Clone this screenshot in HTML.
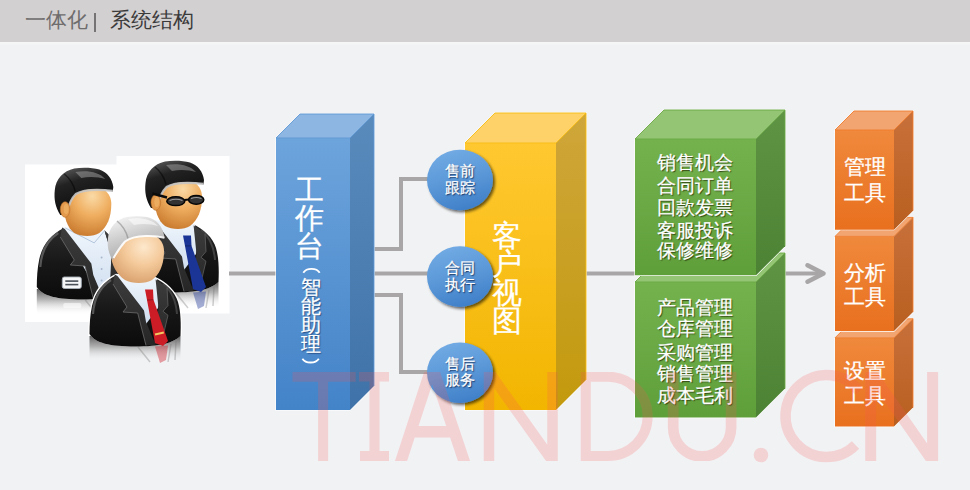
<!DOCTYPE html>
<html><head><meta charset="utf-8"><style>
html,body{margin:0;padding:0;}
body{width:970px;height:490px;overflow:hidden;position:relative;background:#f1f2f4;font-family:"Liberation Sans",sans-serif;}
#hd{position:absolute;left:0;top:0;width:970px;height:41.5px;background:#d3d0d1;}
#hb{position:absolute;left:0;top:41.5px;width:970px;height:3.5px;background:linear-gradient(#f6f7f6,#f2f3f4);}
.t{position:absolute;white-space:nowrap;}
svg{position:absolute;left:0;top:0;}
.vt{position:absolute;color:#fff;text-align:center;-webkit-text-stroke:0.25px #fff;}
.cs{text-shadow:1px 1px 1.2px rgba(0,10,40,.7);}
.gs{text-shadow:1px 1px 1px rgba(30,36,0,.75);}
.bs{text-shadow:1px 1px 1px rgba(0,20,60,.5);}
.os{}
#wm{position:absolute;left:0;top:0;font-family:"Liberation Mono",monospace;color:rgba(238,120,128,.30);font-size:135px;}
</style></head><body>
<div id="hb"></div><div id="hd"><div class="t" style="left:24.5px;top:7px;font-size:20.7px;line-height:26px;color:#6e6c6d">一体化</div><div style="position:absolute;left:93.5px;top:13px;width:2px;height:18.5px;background:#757374"></div><div class="t" style="left:110.3px;top:7px;font-size:20.5px;line-height:26px;color:#3b3a3b">系统结构</div></div>
<svg width="970" height="490" viewBox="0 0 970 490"><defs><linearGradient id="blf" x1="0" y1="0" x2="0" y2="1"><stop offset="0" stop-color="#6da4dc"/><stop offset="1" stop-color="#4383c8"/></linearGradient>
<linearGradient id="bls" x1="0" y1="0" x2="0" y2="1"><stop offset="0" stop-color="#5a8bbd"/><stop offset="1" stop-color="#3f72a8"/></linearGradient><linearGradient id="yef" x1="0" y1="0" x2="0" y2="1"><stop offset="0" stop-color="#ffc830"/><stop offset="1" stop-color="#f2b500"/></linearGradient>
<linearGradient id="yes" x1="0" y1="0" x2="0" y2="1"><stop offset="0" stop-color="#cfa63a"/><stop offset="1" stop-color="#c39a0c"/></linearGradient><linearGradient id="g2f" x1="0" y1="0" x2="0" y2="1"><stop offset="0" stop-color="#74b24e"/><stop offset="1" stop-color="#5f9f3a"/></linearGradient>
<linearGradient id="g2s" x1="0" y1="0" x2="0" y2="1"><stop offset="0" stop-color="#5e9443"/><stop offset="1" stop-color="#4c8233"/></linearGradient><linearGradient id="g1f" x1="0" y1="0" x2="0" y2="1"><stop offset="0" stop-color="#74b24e"/><stop offset="1" stop-color="#5f9f3a"/></linearGradient>
<linearGradient id="g1s" x1="0" y1="0" x2="0" y2="1"><stop offset="0" stop-color="#5e9443"/><stop offset="1" stop-color="#4c8233"/></linearGradient><linearGradient id="o3f" x1="0" y1="0" x2="0" y2="1"><stop offset="0" stop-color="#f0893c"/><stop offset="1" stop-color="#e8701e"/></linearGradient>
<linearGradient id="o3s" x1="0" y1="0" x2="0" y2="1"><stop offset="0" stop-color="#c8703a"/><stop offset="1" stop-color="#b85f20"/></linearGradient><linearGradient id="o2f" x1="0" y1="0" x2="0" y2="1"><stop offset="0" stop-color="#f0893c"/><stop offset="1" stop-color="#e8701e"/></linearGradient>
<linearGradient id="o2s" x1="0" y1="0" x2="0" y2="1"><stop offset="0" stop-color="#c8703a"/><stop offset="1" stop-color="#b85f20"/></linearGradient><linearGradient id="o1f" x1="0" y1="0" x2="0" y2="1"><stop offset="0" stop-color="#f0893c"/><stop offset="1" stop-color="#e8701e"/></linearGradient>
<linearGradient id="o1s" x1="0" y1="0" x2="0" y2="1"><stop offset="0" stop-color="#c8703a"/><stop offset="1" stop-color="#b85f20"/></linearGradient><linearGradient id="cg" x1="0.3" y1="0" x2="0.6" y2="1"><stop offset="0" stop-color="#72abe4"/><stop offset="0.5" stop-color="#5b98d8"/><stop offset="1" stop-color="#3f7fc8"/></linearGradient>
<filter id="sh" x="-30%" y="-30%" width="160%" height="160%"><feGaussianBlur in="SourceAlpha" stdDeviation="1.5"/><feOffset dx="1.5" dy="2"/><feComponentTransfer><feFuncA type="linear" slope="0.6"/></feComponentTransfer><feMerge><feMergeNode/><feMergeNode in="SourceGraphic"/></feMerge></filter>
<linearGradient id="suitg" x1="0" y1="0" x2="0" y2="1"><stop offset="0" stop-color="#2c2c2c"/><stop offset="0.5" stop-color="#171717"/><stop offset="1" stop-color="#0b0b0b"/></linearGradient>
<linearGradient id="lapg" x1="0" y1="0" x2="0" y2="1"><stop offset="0" stop-color="#3c3c3c"/><stop offset="1" stop-color="#262626"/></linearGradient>
<linearGradient id="reflg" x1="0" y1="0" x2="0" y2="1"><stop offset="0" stop-color="#404040" stop-opacity="0.95"/><stop offset="0.45" stop-color="#8c8c8c" stop-opacity="0.65"/><stop offset="1" stop-color="#ffffff" stop-opacity="0"/></linearGradient>
<radialGradient id="face1" cx="0.6" cy="0.22" r="0.85"><stop offset="0" stop-color="#fadaa6"/><stop offset="0.45" stop-color="#efae60"/><stop offset="1" stop-color="#c6762a"/></radialGradient>
<radialGradient id="face3" cx="0.62" cy="0.3" r="0.8"><stop offset="0" stop-color="#fde8cc"/><stop offset="0.45" stop-color="#f4c99a"/><stop offset="1" stop-color="#d49a66"/></radialGradient>
<linearGradient id="hairb" x1="0.2" y1="0" x2="0.6" y2="1"><stop offset="0" stop-color="#5a5a5a"/><stop offset="0.3" stop-color="#222"/><stop offset="1" stop-color="#080808"/></linearGradient>
<linearGradient id="hairs" x1="0.2" y1="0" x2="0.6" y2="1"><stop offset="0" stop-color="#f4f4f4"/><stop offset="0.45" stop-color="#cdcdcd"/><stop offset="1" stop-color="#a4a4a4"/></linearGradient>
<linearGradient id="shirtg" x1="0" y1="0" x2="0" y2="1"><stop offset="0" stop-color="#f0f6fc"/><stop offset="1" stop-color="#d0def0"/></linearGradient>
</defs>
<rect x="25" y="164.5" width="110" height="157.5" fill="#fff"/>
<rect x="116.5" y="156" width="113" height="157.5" fill="#fff"/>
<g transform="translate(-52.7,-47)">
<path d="M89.5,334 C95,343 110,346.5 135,346.5 C160,346.5 173,343 180.5,336 L180.5,362 L89.5,362 Z" fill="url(#reflg)"/>
<path d="M138,347 L150,362 M171,344 L168,362 M176,341 L175,360" stroke="#777" stroke-width="1.5" opacity="0.35"/>
<path d="M89.5,336 C89.5,325 90,315 92,306 C95,292 104,281 116.6,275 L154.4,278 C166,283 175,292 178,302 C181,312 181,325 180.5,336" fill="none" stroke="#fff" stroke-width="2.6"/>
<path d="M116.6,275 C104,281 95,292 92,306 C90,315 89.5,325 89.5,334 C95,343 110,346.5 135,346.5 C160,346.5 173,343 180.5,336 C181,325 181,312 178,302 C175,292 166,283 154.4,278 Z" fill="url(#suitg)"/>
<path d="M111,280 C100,287 94,298 93,314" fill="none" stroke="#707070" stroke-width="2.2" opacity="0.7"/>
<path d="M163,284 C172,291 176,300 177,314" fill="none" stroke="#5a5a5a" stroke-width="2" opacity="0.6"/>
<path d="M115,274 L157,277 L164,300 L163,336 L153,344 L124,292 Z" fill="url(#shirtg)"/>
<path d="M114.8,274.5 L117.5,276 L144,310.5 L146,322 L155.6,344.7 L146,345.5 L137.7,313 L123,312 L127,307 L113,284 Z" fill="url(#lapg)"/>
<path d="M113,284 L127,307 L123,312 L137.7,313 L146,345.5" fill="none" stroke="#6a6a6a" stroke-width="1" opacity="0.8"/>
<path d="M157,277 L167,287 L170,310 L166,344 L160,345 L163,336 L164,300 Z" fill="url(#lapg)"/>
<path d="M118,275 L146.9,289.9 L157,278" fill="none" stroke="#b4c6dc" stroke-width="1"/>
<g fill="#a8b8cc"><circle cx="154.3" cy="304.6" r="1"/><circle cx="154.3" cy="316" r="1"/><circle cx="154.3" cy="327.4" r="1"/></g>
<rect x="115" y="324" width="19" height="11.5" rx="2" fill="#f4f6f8" stroke="#a8b0b8" stroke-width="0.9"/>
<rect x="118" y="327.3" width="13" height="1.6" fill="#4a5058"/><rect x="118" y="330.8" width="13" height="1.6" fill="#4a5058"/>
<rect x="116" y="350" width="18" height="5" rx="1.5" fill="#fff" opacity="0.55"/>
<path d="M116.5,252 C116.5,240 125,232 139,232 C154,232 164,239 164,251 C164,264 160,274 152,280 C146,284 134,284 127,280 C120,275 116.5,264 116.5,252 Z" fill="url(#face1)"/>
<path d="M113,262 C108,254 106.5,246 107.5,237 C108.5,226 116,218 127,215.5 C135,214 145,214.5 152,216.5 C160,219 165,226 166,234 L165.5,238.5 C158,236 150,235.5 141,236.5 C134,237.5 129,240 125.5,244.5 C122,249 120,255 119,262 Z" fill="url(#hairb)"/>
<path d="M128,219 C140,217 152,219 158,226 C152,224 142,223 134,225 Z" fill="#9a9a9a" opacity="0.55"/>
<path d="M117,221 C122,225 126,230 128,238.5" fill="none" stroke="#000" stroke-width="1.6" opacity="0.5"/>
<path d="M120,259 C121.5,251 124,245.5 128.5,241 C135,237 148,235.8 165.5,237.8" fill="none" stroke="#c4c4c4" stroke-width="2.2" opacity="0.9"/>
<ellipse cx="117.8" cy="256.5" rx="4.8" ry="7.8" fill="#e49a4c" stroke="#b86e28" stroke-width="0.6"/>
<ellipse cx="118.8" cy="256" rx="2.4" ry="5" fill="#f0b46a" opacity="0.7"/>
</g>
<g transform="translate(38,-54)">
<path d="M89.5,334 C95,343 110,346.5 135,346.5 C160,346.5 173,343 180.5,336 L180.5,362 L89.5,362 Z" fill="url(#reflg)"/>
<path d="M138,347 L150,362 M171,344 L168,362 M176,341 L175,360" stroke="#777" stroke-width="1.5" opacity="0.35"/>
<path d="M155,346.5 L168,345.5 L166,360 L160,363 Z" fill="#1b3596" opacity="0.4"/>
<path d="M89.5,336 C89.5,325 90,315 92,306 C95,292 104,281 116.6,275 L154.4,278 C166,283 175,292 178,302 C181,312 181,325 180.5,336" fill="none" stroke="#fff" stroke-width="2.6"/>
<path d="M116.6,275 C104,281 95,292 92,306 C90,315 89.5,325 89.5,334 C95,343 110,346.5 135,346.5 C160,346.5 173,343 180.5,336 C181,325 181,312 178,302 C175,292 166,283 154.4,278 Z" fill="url(#suitg)"/>
<path d="M111,280 C100,287 94,298 93,314" fill="none" stroke="#707070" stroke-width="2.2" opacity="0.7"/>
<path d="M163,284 C172,291 176,300 177,314" fill="none" stroke="#5a5a5a" stroke-width="2" opacity="0.6"/>
<path d="M115,274 L156.5,278 L160,294 L158,308 L146,324 L141,310 L124,290 Z" fill="url(#shirtg)"/>
<path d="M114.8,274.5 L117.5,276 L144,310.5 L146,322 L155.6,344.7 L146,345.5 L137.7,313 L123,312 L127,307 L113,284 Z" fill="url(#lapg)"/>
<path d="M113,284 L127,307 L123,312 L137.7,313 L146,345.5" fill="none" stroke="#6a6a6a" stroke-width="1" opacity="0.8"/>
<path d="M155.6,279.5 L167,287.6 L168,305.6 L163,311.3 L168,315.3 L161,344.7 L154,344 L158.5,308 Z" fill="url(#lapg)"/>
<path d="M167,287.6 L168,305.6 L163,311.3 L168,315.3 L161,344.7" fill="none" stroke="#666" stroke-width="1" opacity="0.7"/>
<path d="M145,289.5 L153,289.5 L153.5,299.8 L168,341 L163,346 L155,343 L147,300 Z" fill="#1b3596"/>
<path d="M147,300 L153.5,299.8" stroke="#000" stroke-width="0.8" opacity="0.35"/>
<path d="M116.5,252 C116.5,240 125,232 139,232 C154,232 164,239 164,251 C164,264 160,274 152,280 C146,284 134,284 127,280 C120,275 116.5,264 116.5,252 Z" fill="url(#face1)"/>
<path d="M113,262 C108,254 106.5,246 107.5,237 C108.5,226 116,218 127,215.5 C135,214 145,214.5 152,216.5 C160,219 165,226 166,234 L165.5,238.5 C158,236 150,235.5 141,236.5 C134,237.5 129,240 125.5,244.5 C122,249 120,255 119,262 Z" fill="url(#hairb)"/>
<path d="M128,219 C140,217 152,219 158,226 C152,224 142,223 134,225 Z" fill="#9a9a9a" opacity="0.55"/>
<path d="M117,221 C122,225 126,230 128,238.5" fill="none" stroke="#000" stroke-width="1.6" opacity="0.5"/>
<path d="M120,259 C121.5,251 124,245.5 128.5,241 C135,237 148,235.8 165.5,237.8" fill="none" stroke="#c4c4c4" stroke-width="2.2" opacity="0.9"/>
<ellipse cx="117.8" cy="256.5" rx="4.8" ry="7.8" fill="#e49a4c" stroke="#b86e28" stroke-width="0.6"/>
<ellipse cx="118.8" cy="256" rx="2.4" ry="5" fill="#f0b46a" opacity="0.7"/>
<path d="M114.4,247.5 L129,251.5" stroke="#0c0c0c" stroke-width="2.4"/>
<ellipse cx="137.8" cy="255.2" rx="9" ry="4.4" fill="#333" stroke="#060606" stroke-width="1.5"/>
<ellipse cx="158.2" cy="253.8" rx="7.6" ry="4.4" fill="#333" stroke="#060606" stroke-width="1.5"/>
<path d="M146.5,254 L151,253.5" stroke="#060606" stroke-width="1.8"/>
<path d="M131.5,254.5 Q138,252 144.5,254.5 M153,252.5 Q158.5,250.5 163.5,252.5" fill="none" stroke="#9a9a9a" stroke-width="1.2"/>
</g>
<g transform="translate(0,0)">
<path d="M89.5,334 C95,343 110,346.5 135,346.5 C160,346.5 173,343 180.5,336 L180.5,362 L89.5,362 Z" fill="url(#reflg)"/>
<path d="M138,347 L150,362 M171,344 L168,362 M176,341 L175,360" stroke="#777" stroke-width="1.5" opacity="0.35"/>
<path d="M155,346.5 L168,345.5 L166,360 L160,363 Z" fill="#cc1c26" opacity="0.4"/>
<path d="M89.5,336 C89.5,325 90,315 92,306 C95,292 104,281 116.6,275 L154.4,278 C166,283 175,292 178,302 C181,312 181,325 180.5,336" fill="none" stroke="#fff" stroke-width="2.6"/>
<path d="M116.6,275 C104,281 95,292 92,306 C90,315 89.5,325 89.5,334 C95,343 110,346.5 135,346.5 C160,346.5 173,343 180.5,336 C181,325 181,312 178,302 C175,292 166,283 154.4,278 Z" fill="url(#suitg)"/>
<path d="M111,280 C100,287 94,298 93,314" fill="none" stroke="#707070" stroke-width="2.2" opacity="0.7"/>
<path d="M163,284 C172,291 176,300 177,314" fill="none" stroke="#5a5a5a" stroke-width="2" opacity="0.6"/>
<path d="M115,274 L156.5,278 L160,294 L158,308 L146,324 L141,310 L124,290 Z" fill="url(#shirtg)"/>
<path d="M114.8,274.5 L117.5,276 L144,310.5 L146,322 L155.6,344.7 L146,345.5 L137.7,313 L123,312 L127,307 L113,284 Z" fill="url(#lapg)"/>
<path d="M113,284 L127,307 L123,312 L137.7,313 L146,345.5" fill="none" stroke="#6a6a6a" stroke-width="1" opacity="0.8"/>
<path d="M155.6,279.5 L167,287.6 L168,305.6 L163,311.3 L168,315.3 L161,344.7 L154,344 L158.5,308 Z" fill="url(#lapg)"/>
<path d="M167,287.6 L168,305.6 L163,311.3 L168,315.3 L161,344.7" fill="none" stroke="#666" stroke-width="1" opacity="0.7"/>
<path d="M145,289.5 L153,289.5 L153.5,299.8 L168,341 L163,346 L155,343 L147,300 Z" fill="#cc1c26"/>
<path d="M147,300 L153.5,299.8" stroke="#000" stroke-width="0.8" opacity="0.35"/>
<path d="M155,334.5 L163.8,332.5" stroke="#f2c860" stroke-width="2"/>
<path d="M110.8,252 C110.8,240 122,232 138,232 C154,232 164,239 164,251 C164,264 160,274 152,280 C146,284 132,284 125,280 C116,274 110.8,264 110.8,252 Z" fill="url(#face3)"/>
<path d="M112.3,260 C108.5,253 107,246 108,238 C109,228 116,219 127,217 C133,216 140,216 147,217 C156,219 163,226 164.5,237.5 C158,236 148,235.5 138,236.2 C131,237 126,240 122.5,245 C118.5,250 115,256 112.3,260 Z" fill="url(#hairs)"/>
<path d="M128,219 C140,217 152,219 158,226 C152,224 142,223 134,225 Z" fill="#ffffff" opacity="0.55"/>
<path d="M117,221 C122,225 126,230 128,238.5" fill="none" stroke="#7a7a7a" stroke-width="1.6" opacity="0.5"/>
<path d="M113.5,258 C117,252 121,246 125,241.5 C130,237.5 137,236.3 146,236 C153,235.8 159,236.3 164.5,237.8" fill="none" stroke="#ffffff" stroke-width="2" opacity="0.9"/>
</g>
<g fill="#a9a6a7">
<rect x="229" y="271.5" width="48" height="4"/>
<rect x="373" y="271.5" width="60" height="4"/>
<rect x="373" y="247" width="30" height="4"/>
<rect x="399" y="177" width="4" height="74"/>
<rect x="399" y="177" width="34" height="4"/>
<rect x="373" y="293" width="30" height="4"/>
<rect x="399" y="293" width="4" height="81"/>
<rect x="399" y="370" width="34" height="4"/>
<rect x="585" y="271.5" width="51" height="4"/>
<rect x="784" y="271.5" width="36" height="4"/>
</g>
<path d="M807.5 265.3 L823.5 273.5 L807.5 281.7" fill="none" stroke="#a9a6a7" stroke-width="4.6" stroke-linecap="round" stroke-linejoin="round"/>
<g stroke="#fff" stroke-width="1.2" stroke-linejoin="miter">
<polygon points="276,138 300,114 374,114 374,386 350,410 276,410" fill="none"/></g>
<polygon points="276,138 350,138 350,410 276,410" fill="url(#blf)"/>
<polygon points="276,138 300,114 374,114 350,138" fill="#8db6e2"/>
<polygon points="350,138 374,114 374,386 350,410" fill="url(#bls)"/>
<g fill="none" stroke="#5f98d4" stroke-width="1" opacity="0.9"><path d="M276,138 L300,114 L374,114 L374,386 M276,138 L350,138 L374,114"/></g><g stroke="#fff" stroke-width="1.2" stroke-linejoin="miter">
<polygon points="465,143 495,113 586,113 586,380 556,410 465,410" fill="none"/></g>
<polygon points="465,143 556,143 556,410 465,410" fill="url(#yef)"/>
<polygon points="465,143 495,113 586,113 556,143" fill="#fed268"/>
<polygon points="556,143 586,113 586,380 556,410" fill="url(#yes)"/>
<g fill="none" stroke="#f7bd12" stroke-width="1" opacity="0.9"><path d="M465,143 L495,113 L586,113 L586,380 M465,143 L556,143 L586,113"/></g><g stroke="#fff" stroke-width="1.2" stroke-linejoin="miter">
<polygon points="635,282 664,253 785,253 785,388.6 756,417.6 635,417.6" fill="none"/></g>
<polygon points="635,282 756,282 756,417.6 635,417.6" fill="url(#g2f)"/>
<polygon points="635,282 664,253 785,253 756,282" fill="#93c574"/>
<polygon points="756,282 785,253 785,388.6 756,417.6" fill="url(#g2s)"/>
<g fill="none" stroke="#6aa846" stroke-width="1" opacity="0.9"><path d="M635,282 L664,253 L785,253 L785,388.6 M635,282 L756,282 L785,253"/></g><g stroke="#fff" stroke-width="1.2" stroke-linejoin="miter">
<polygon points="635,139 664,110 785,110 785,246.3 756,275.3 635,275.3" fill="none"/></g>
<polygon points="635,139 756,139 756,275.3 635,275.3" fill="url(#g1f)"/>
<polygon points="635,139 664,110 785,110 756,139" fill="#93c574"/>
<polygon points="756,139 785,110 785,246.3 756,275.3" fill="url(#g1s)"/>
<g fill="none" stroke="#6aa846" stroke-width="1" opacity="0.9"><path d="M635,139 L664,110 L785,110 L785,246.3 M635,139 L756,139 L785,110"/></g><g stroke="#fff" stroke-width="1.2" stroke-linejoin="miter">
<polygon points="835,337.8 854,318.8 913,318.8 913,407.6 894,426.6 835,426.6" fill="none"/></g>
<polygon points="835,337.8 894,337.8 894,426.6 835,426.6" fill="url(#o3f)"/>
<polygon points="835,337.8 854,318.8 913,318.8 894,337.8" fill="#f2a571"/>
<polygon points="894,337.8 913,318.8 913,407.6 894,426.6" fill="url(#o3s)"/>
<g fill="none" stroke="#ee7c2e" stroke-width="1" opacity="0.9"><path d="M835,337.8 L854,318.8 L913,318.8 L913,407.6 M835,337.8 L894,337.8 L913,318.8"/></g><g stroke="#fff" stroke-width="1.2" stroke-linejoin="miter">
<polygon points="835,236.4 854,217.4 913,217.4 913,312.1 894,331.1 835,331.1" fill="none"/></g>
<polygon points="835,236.4 894,236.4 894,331.1 835,331.1" fill="url(#o2f)"/>
<polygon points="835,236.4 854,217.4 913,217.4 894,236.4" fill="#f2a571"/>
<polygon points="894,236.4 913,217.4 913,312.1 894,331.1" fill="url(#o2s)"/>
<g fill="none" stroke="#ee7c2e" stroke-width="1" opacity="0.9"><path d="M835,236.4 L854,217.4 L913,217.4 L913,312.1 M835,236.4 L894,236.4 L913,217.4"/></g><g stroke="#fff" stroke-width="1.2" stroke-linejoin="miter">
<polygon points="835,130 854,111 913,111 913,210.7 894,229.7 835,229.7" fill="none"/></g>
<polygon points="835,130 894,130 894,229.7 835,229.7" fill="url(#o1f)"/>
<polygon points="835,130 854,111 913,111 894,130" fill="#f2a571"/>
<polygon points="894,130 913,111 913,210.7 894,229.7" fill="url(#o1s)"/>
<g fill="none" stroke="#ee7c2e" stroke-width="1" opacity="0.9"><path d="M835,130 L854,111 L913,111 L913,210.7 M835,130 L894,130 L913,111"/></g>
<ellipse cx="460" cy="180" rx="33" ry="30.3" fill="url(#cg)" filter="url(#sh)"/><ellipse cx="460" cy="276.6" rx="33" ry="30.3" fill="url(#cg)" filter="url(#sh)"/><ellipse cx="460" cy="372.7" rx="33" ry="30.3" fill="url(#cg)" filter="url(#sh)"/>
<path d="M303.3,272.7 A9,6.5 0 0 1 319.7,272.7 M302.4,358.7 A9,6.5 0 0 0 318.8,358.7" fill="none" stroke="#fff" stroke-width="1.8"/>
</svg>
<div class="vt " style="left:293.30px;top:175.50px;width:33.00px;font-size:29px;line-height:29px;">工</div>
<div class="vt " style="left:293.30px;top:203.80px;width:33.00px;font-size:29px;line-height:29px;">作</div>
<div class="vt " style="left:293.30px;top:232.10px;width:33.00px;font-size:29px;line-height:29px;">台</div>
<div class="vt bs" style="left:299.25px;top:278.40px;width:23.50px;font-size:19.5px;line-height:19.5px;">智</div>
<div class="vt bs" style="left:299.25px;top:297.30px;width:23.50px;font-size:19.5px;line-height:19.5px;">能</div>
<div class="vt bs" style="left:299.25px;top:316.20px;width:23.50px;font-size:19.5px;line-height:19.5px;">助</div>
<div class="vt bs" style="left:299.25px;top:335.10px;width:23.50px;font-size:19.5px;line-height:19.5px;">理</div>
<div class="vt " style="left:490.35px;top:220.80px;width:33.50px;font-size:29.5px;line-height:29.5px;">客</div>
<div class="vt " style="left:490.35px;top:249.30px;width:33.50px;font-size:29.5px;line-height:29.5px;">户</div>
<div class="vt " style="left:490.35px;top:277.80px;width:33.50px;font-size:29.5px;line-height:29.5px;">视</div>
<div class="vt " style="left:490.35px;top:306.30px;width:33.50px;font-size:29.5px;line-height:29.5px;">图</div>
<div class="vt cs" style="left:443.20px;top:163.10px;width:34.00px;font-size:15px;line-height:15px;">售前</div>
<div class="vt cs" style="left:443.20px;top:179.75px;width:34.00px;font-size:15px;line-height:15px;">跟踪</div>
<div class="vt cs" style="left:443.20px;top:260.05px;width:34.00px;font-size:15px;line-height:15px;">合同</div>
<div class="vt cs" style="left:443.20px;top:277.35px;width:34.00px;font-size:15px;line-height:15px;">执行</div>
<div class="vt cs" style="left:443.20px;top:356.20px;width:34.00px;font-size:15px;line-height:15px;">售后</div>
<div class="vt cs" style="left:443.20px;top:371.95px;width:34.00px;font-size:15px;line-height:15px;">服务</div>
<div class="vt gs" style="left:656.20px;top:154.39px;width:78.00px;font-size:18.5px;line-height:18.5px;">销售机会</div>
<div class="vt gs" style="left:656.20px;top:177.44px;width:78.00px;font-size:18.5px;line-height:18.5px;">合同订单</div>
<div class="vt gs" style="left:656.20px;top:199.02px;width:78.00px;font-size:18.5px;line-height:18.5px;">回款发票</div>
<div class="vt gs" style="left:656.20px;top:222.00px;width:78.00px;font-size:18.5px;line-height:18.5px;">客服投诉</div>
<div class="vt gs" style="left:656.20px;top:242.39px;width:78.00px;font-size:18.5px;line-height:18.5px;">保修维修</div>
<div class="vt gs" style="left:656.20px;top:298.71px;width:78.00px;font-size:18.5px;line-height:18.5px;">产品管理</div>
<div class="vt gs" style="left:656.20px;top:319.88px;width:78.00px;font-size:18.5px;line-height:18.5px;">仓库管理</div>
<div class="vt gs" style="left:656.20px;top:343.63px;width:78.00px;font-size:18.5px;line-height:18.5px;">采购管理</div>
<div class="vt gs" style="left:656.20px;top:365.09px;width:78.00px;font-size:18.5px;line-height:18.5px;">销售管理</div>
<div class="vt gs" style="left:656.20px;top:387.04px;width:78.00px;font-size:18.5px;line-height:18.5px;">成本毛利</div>
<div class="vt os" style="left:842.00px;top:156.78px;width:45.00px;font-size:20.5px;line-height:20.5px;">管理</div>
<div class="vt os" style="left:842.00px;top:183.26px;width:45.00px;font-size:20.5px;line-height:20.5px;">工具</div>
<div class="vt os" style="left:842.00px;top:263.08px;width:45.00px;font-size:20.5px;line-height:20.5px;">分析</div>
<div class="vt os" style="left:842.00px;top:287.16px;width:45.00px;font-size:20.5px;line-height:20.5px;">工具</div>
<div class="vt os" style="left:842.00px;top:361.38px;width:45.00px;font-size:20.5px;line-height:20.5px;">设置</div>
<div class="vt os" style="left:842.00px;top:385.66px;width:45.00px;font-size:20.5px;line-height:20.5px;">工具</div>
<svg width="970" height="490" viewBox="0 0 970 490" style="z-index:5"><defs><clipPath id="wmc"><rect x="0" y="372" width="970" height="89"/></clipPath></defs>
<g opacity="0.2" fill="none" stroke="#fa5555" stroke-width="10">
<g clip-path="url(#wmc)">
<path d="M292.5,376.8 H355.7 M323.1,372 V461"/>
<path d="M359,376.5 H389 M374.5,372 V461 M360,456 H389"/>
<path d="M399.4,466 L432.1,366 L465.7,466 M410,431.8 H456" stroke-width="11.5"/>
<path d="M489,461 V372 L552.5,461 V372" stroke-width="10.5" stroke-linejoin="miter"/>
<path d="M585.75,461 V376.7 H608 A39.6,39.6 0 0 1 608,456 H585.75"/>
<path d="M673.2,372 V427.5 A28.95,28.95 0 0 0 731.1,427.5 V372" stroke-width="10.7"/>
<path d="M870.7,461 V372 L932.6,461 V372" stroke-width="11"/>
</g>
<circle cx="761" cy="455" r="7.3" fill="#fa5555" stroke="none"/>
<path d="M859.2,391.3 A41,41 0 1 0 855.5,445" stroke-width="10.5"/>
</g></svg>
</body></html>
